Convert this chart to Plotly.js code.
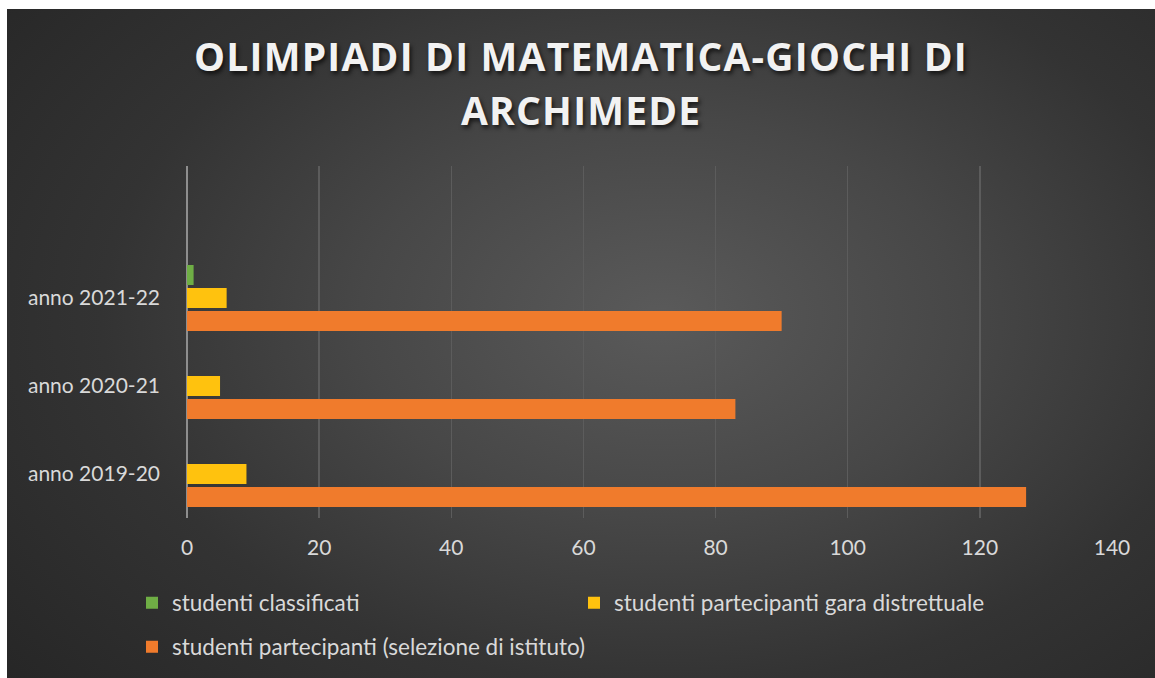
<!DOCTYPE html>
<html>
<head>
<meta charset="utf-8">
<script src="https://cdn.plot.ly/plotly-3.0.1.min.js"></script>
<style>
  html, body { margin: 0; padding: 0; background: #ffffff; width: 1155px; height: 678px; overflow: hidden; }
  #chart {
    position: absolute; left: 7px; top: 9px; width: 1148px; height: 669px;
    background: radial-gradient(ellipse 75% 85% at 57% 46%, #5a5a5a 0%, #474747 35%, #333333 65%, #262626 100%);
  }
</style>
</head>
<body>
<div id="chart"></div>
<script>
// ---- data ----
var categories = ['anno 2019-20', 'anno 2020-21', 'anno 2021-22'];
var seriesNames = [
  'studenti partecipanti (selezione di istituto)',
  'studenti partecipanti gara distrettuale',
  'studenti classificati'
];
var partecipantiIstituto = [127, 83, 90];
var partecipantiDistrettuale = [9, 5, 6];
var classificati = [null, null, 1];
var xTickValues = [0, 20, 40, 60, 80, 100, 120, 140];
var titleLine1 = 'OLIMPIADI DI MATEMATICA-GIOCHI DI';
var titleLine2 = 'ARCHIMEDE';

// ---- chart ----
var W = 1148, H = 669;
var textColor = '#d9d9d9';
var baseFont = { family: 'Lato, "Open Sans", sans-serif', size: 21, color: textColor };
var legendFont = { family: 'Lato, "Open Sans", sans-serif', size: 22.5, color: textColor };
var titleFont = { family: '"Open Sans", Lato, sans-serif', size: 39, weight: 700, color: '#f2f2f2',
                  shadow: '2px 3px 4px rgba(0,0,0,0.65)' };
function spaced(t) { return '<span style="letter-spacing:1.2px">' + t + '</span>'; }

var traces = [
  { type: 'bar', orientation: 'h', name: seriesNames[0], y: categories, x: partecipantiIstituto,
    marker: { color: '#F07B2C', line: { width: 0 } }, legend: 'legend3' },
  { type: 'bar', orientation: 'h', name: seriesNames[1], y: categories, x: partecipantiDistrettuale,
    marker: { color: '#FFC20E', line: { width: 0 } }, legend: 'legend2' },
  { type: 'bar', orientation: 'h', name: seriesNames[2], y: categories, x: classificati,
    marker: { color: '#6FAE45', line: { width: 0 } }, legend: 'legend' }
];

function legendAt(px, pyCenter) {
  return {
    xref: 'container', yref: 'container',
    x: px / W, xanchor: 'left',
    y: 1 - pyCenter / H, yanchor: 'middle',
    orientation: 'h', bgcolor: 'rgba(0,0,0,0)', borderwidth: 0,
    font: legendFont
  };
}

var layout = {
  width: W, height: H,
  paper_bgcolor: 'rgba(0,0,0,0)',
  plot_bgcolor: 'rgba(0,0,0,0)',
  margin: { l: 180, r: 43, t: 157, b: 160, pad: 0 },
  barmode: 'group',
  bargap: 0.216,
  bargroupgap: 0.13,
  font: baseFont,
  title: {
    text: spaced(titleLine1),
    xref: 'container', x: 0.5, xanchor: 'center',
    yref: 'container', y: 1 - 48 / H, yanchor: 'middle',
    font: titleFont
  },
  annotations: [{
    text: spaced(titleLine2),
    xref: 'paper', yref: 'paper', showarrow: false,
    x: (574 - 180) / 925, xanchor: 'center',
    y: 1 + (157 - 101) / 352, yanchor: 'middle',
    font: titleFont
  }],
  xaxis: {
    range: [0, 140],
    tickmode: 'array', tickvals: xTickValues,
    showgrid: true, gridcolor: '#5c5c5c', gridwidth: 1.5,
    zeroline: true, zerolinecolor: '#8e8e8e', zerolinewidth: 2,
    showline: false, ticks: '',
    ticklabelstandoff: 15,
    tickfont: baseFont,
    fixedrange: true
  },
  yaxis: {
    type: 'category',
    categoryorder: 'array', categoryarray: categories,
    range: [-0.5, 3.5],
    showgrid: false, zeroline: false, showline: false, ticks: '',
    ticklabelstandoff: 26,
    tickfont: baseFont,
    fixedrange: true
  },
  showlegend: true,
  legend: legendAt(125, 594),
  legend2: legendAt(567, 594),
  legend3: legendAt(125, 638)
};

Plotly.newPlot('chart', traces, layout, { staticPlot: true, displayModeBar: false });
</script>
</body>
</html>
